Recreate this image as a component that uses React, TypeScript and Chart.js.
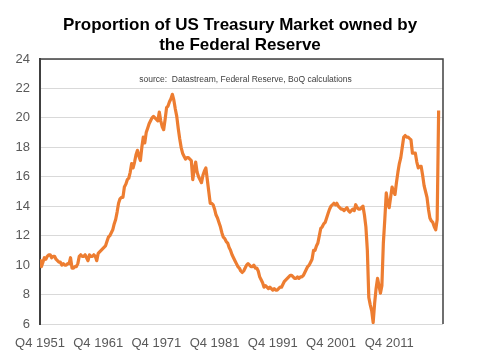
import React, { useEffect, useRef } from "react";
import { Chart, registerables } from "chart.js";

Chart.register(...registerables);

const titleLines = ["Proportion of US Treasury Market owned by", "the Federal Reserve"];
const sourceNote = "source:  Datastream, Federal Reserve, BoQ calculations";
const xTickLabels = ["Q4 1951", "Q4 1961", "Q4 1971", "Q4 1981", "Q4 1991", "Q4 2001", "Q4 2011"];
const yMin = 6;
const yMax = 24;
const yStep = 2;

// Quarterly share (%) from Q4 1951 to Q2 2020
const fedShare = [
  10.4, 9.9, 10.2, 10.5, 10.4, 10.6, 10.7, 10.7, 10.5, 10.6,
  10.6, 10.4, 10.3, 10.2, 10.2, 10.0, 10.1, 10.0, 10.0, 10.1,
  10.1, 10.5, 9.8, 9.8, 9.9, 9.9, 10.1, 10.6, 10.7, 10.6,
  10.6, 10.7, 10.5, 10.3, 10.7, 10.6, 10.6, 10.7, 10.6, 10.3,
  10.8, 10.9, 11.0, 11.1, 11.2, 11.3, 11.6, 11.9, 12.0, 12.2,
  12.4, 12.8, 13.1, 13.6, 14.2, 14.5, 14.6, 14.6, 15.3, 15.5,
  15.8, 15.9, 16.3, 16.9, 16.6, 17.0, 17.5, 17.8, 17.4, 17.1,
  18.0, 18.7, 18.3, 19.0, 19.3, 19.6, 19.8, 20.0, 20.1, 20.0,
  19.9, 19.8, 20.4, 19.8, 19.4, 19.2, 19.9, 20.7, 20.8, 21.1,
  21.3, 21.6, 21.2, 20.6, 20.1, 19.3, 18.6, 18.0, 17.6, 17.4,
  17.2, 17.3, 17.3, 17.2, 17.1, 15.8, 16.5, 17.0, 16.3, 16.0,
  15.8, 15.6, 16.1, 16.4, 16.6, 15.8, 15.0, 14.2, 14.2, 14.1,
  13.8, 13.4, 13.2, 12.9, 12.6, 12.2, 11.9, 11.8, 11.6, 11.5,
  11.2, 11.0, 10.7, 10.5, 10.3, 10.1, 9.9, 9.8, 9.6, 9.5,
  9.6, 9.8, 10.0, 10.1, 10.0, 9.9, 9.9, 10.0, 9.8, 9.8,
  9.6, 9.2, 9.0, 8.8, 8.5, 8.6, 8.5, 8.4, 8.5, 8.4,
  8.3, 8.4, 8.3, 8.3, 8.4, 8.5, 8.5, 8.7, 8.9, 9.0,
  9.1, 9.2, 9.3, 9.3, 9.2, 9.1, 9.1, 9.2, 9.1, 9.2,
  9.2, 9.3, 9.5, 9.7, 9.9, 10.0, 10.2, 10.4, 11.0, 11.0,
  11.3, 11.5, 12.0, 12.5, 12.6, 12.8, 12.9, 13.2, 13.5, 13.8,
  14.0, 14.1, 14.2, 14.1, 14.2, 14.0, 13.9, 13.8, 13.8, 13.7,
  13.8, 13.9, 13.7, 13.6, 13.7, 13.8, 13.7, 14.1, 13.9, 13.8,
  13.8, 13.9, 14.0, 13.4, 12.6, 11.0, 7.8, 7.3, 6.9, 6.1,
  7.4, 8.4, 9.1, 8.6, 8.1, 8.6, 11.5, 13.1, 14.9, 14.2,
  13.9, 14.6, 15.3, 15.0, 14.8, 15.6, 16.3, 16.9, 17.3, 18.0,
  18.7, 18.8, 18.7, 18.7, 18.6, 18.5, 17.6, 17.6, 17.6, 17.0,
  16.6, 16.7, 16.7, 16.1, 15.4, 15.0, 14.6, 13.8, 13.2, 13.0,
  12.9, 12.6, 12.4, 13.1, 20.5,
];

const QUARTERS_PER_TICK = 40;
const X_MAX = 277;

const FONT = '"Liberation Sans", Arial, sans-serif';

const decorPlugin = {
  id: "decor",
  beforeDraw(chart: any) {
    const ctx = chart.ctx;
    ctx.save();
    ctx.fillStyle = "#000000";
    ctx.font = `bold 17px ${FONT}`;
    ctx.textAlign = "center";
    ctx.textBaseline = "alphabetic";
    ctx.fillText(titleLines[0], 232, 22);
    ctx.fillText(titleLines[1], 232, 42);
    ctx.restore();
  },
  afterDraw(chart: any) {
    const { ctx, chartArea: a } = chart;
    ctx.save();
    ctx.strokeStyle = "#404040";
    ctx.lineWidth = 1.5;
    ctx.beginPath();
    ctx.moveTo(a.left, a.top);
    ctx.lineTo(a.right, a.top);
    ctx.lineTo(a.right, a.bottom);
    ctx.stroke();
    ctx.font = `8.5px ${FONT}`;
    ctx.fillStyle = "#404040";
    ctx.textAlign = "center";
    ctx.textBaseline = "middle";
    ctx.fillText(sourceNote, (a.left + a.right) / 2 + 4, a.top + 21);
    ctx.restore();
  },
};

export default function App() {
  const ref = useRef<HTMLCanvasElement>(null);
  useEffect(() => {
    if (!ref.current) return;
    const chart = new Chart(ref.current, {
      type: "line",
      data: {
        datasets: [
          {
            label: "Fed share",
            data: fedShare.map((v, i) => ({ x: i, y: v })),
            borderColor: "#ED7D31",
            backgroundColor: "#ED7D31",
            borderWidth: 3.2,
            pointRadius: 0,
            tension: 0,
            borderJoinStyle: "round",
          },
        ],
      },
      options: {
        animation: false,
        responsive: true,
        maintainAspectRatio: false,
        layout: { padding: { left: 8, right: 32, top: 51, bottom: 0 } },
        plugins: { legend: { display: false }, title: { display: false }, tooltip: { enabled: false } },
        scales: {
          x: {
            type: "linear",
            min: 0,
            max: X_MAX,
            afterFit: (s: any) => {
              s.height = 27;
            },
            grid: { display: false, drawTicks: true, tickLength: 12 },
            border: { display: false },
            ticks: {
              stepSize: QUARTERS_PER_TICK,
              includeBounds: false,
              autoSkip: false,
              maxRotation: 0,
              padding: 0,
              color: "#595959",
              font: { family: FONT, size: 13 },
              callback: (v: any) => {
                const i = Number(v) / QUARTERS_PER_TICK;
                return Number.isInteger(i) && xTickLabels[i] ? xTickLabels[i] : null;
              },
            },
          },
          y: {
            min: yMin,
            max: yMax,
            afterFit: (s: any) => {
              s.width = 24;
            },
            grid: { color: "#d9d9d9", lineWidth: 1, drawTicks: false },
            border: { display: true, color: "#404040", width: 2 },
            ticks: {
              stepSize: yStep,
              padding: 10,
              color: "#595959",
              font: { family: FONT, size: 13 },
            },
          },
        },
      },
      plugins: [decorPlugin],
    });
    return () => chart.destroy();
  }, []);
  return (
    <div style={{ position: "relative", width: 467, height: 343 }}>
      <canvas ref={ref} />
    </div>
  );
}
